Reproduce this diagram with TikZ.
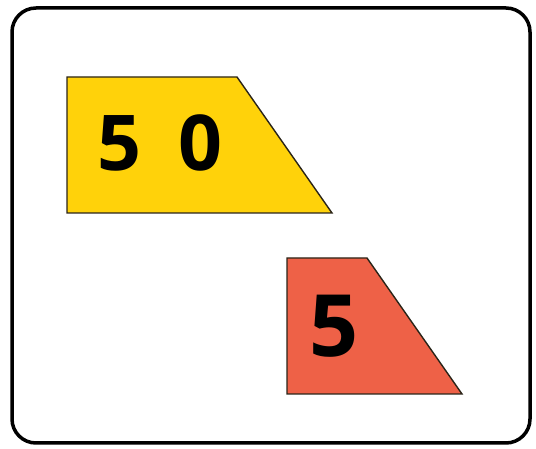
\documentclass[tikz,border=0pt]{standalone}
\usepackage{fontspec}
\setsansfont{Open Sans}
\usepackage{tikz}
\usetikzlibrary{positioning}
\definecolor{SignYellow}{HTML}{FFD20A}
\definecolor{SignRed}{HTML}{EE6147}
\definecolor{SignEdge}{HTML}{2A2418}

\begin{document}
\begin{tikzpicture}[
  x=1pt, y=1pt,
  panel/.style={draw, line width=3.5pt, rounded corners=24pt},
  plate/.style={draw=SignEdge, line width=1.4pt, line join=miter},
  digits/.style={inner sep=0pt, text=black}
]
\useasboundingbox (0,0) rectangle (536,449);
\draw[panel] (12,441) rectangle (530,6);

% upper plate
\filldraw[plate, fill=SignYellow] (67,372) -- (237,372) -- (332,236) -- (67,236) -- cycle;
\node[digits, font=\sffamily\bfseries\fontsize{77}{77}\selectfont] (fifty) at (160,306.5) {5\hspace{37pt}0};

% lower plate
\filldraw[plate, fill=SignRed] (287,191) -- (367,191) -- (462,55) -- (287,55) -- cycle;
\node[digits, font=\sffamily\bfseries\fontsize{86}{86}\selectfont] (five) at (334,122.5) {5};
\end{tikzpicture}
\end{document}
